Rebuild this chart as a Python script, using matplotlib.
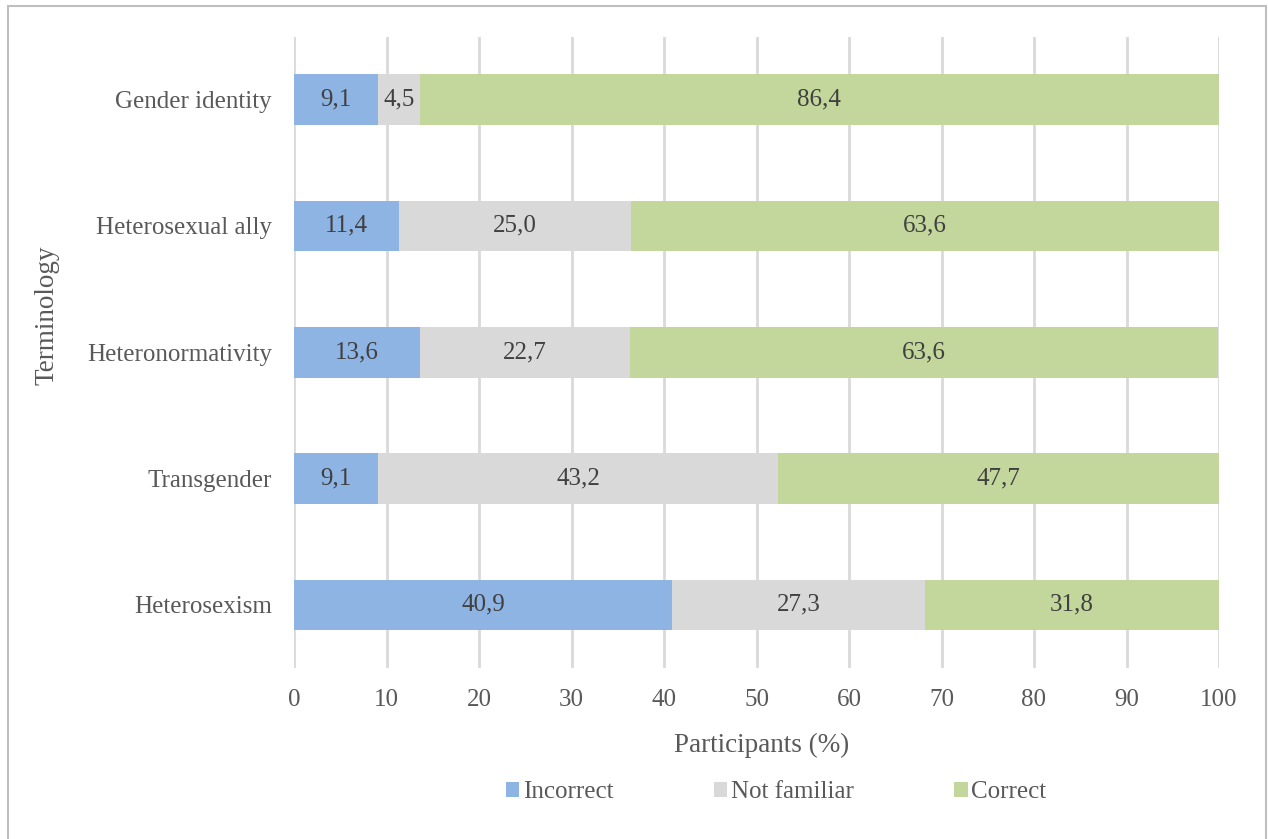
import matplotlib
matplotlib.use("Agg")
import matplotlib.pyplot as plt
from matplotlib.patches import Rectangle

terms = ["Heterosexism", "Transgender", "Heteronormativity", "Heterosexual ally", "Gender identity"]
incorrect = [40.9, 9.1, 13.6, 11.4, 9.1]
not_familiar = [27.3, 43.2, 22.7, 25.0, 4.5]
correct = [31.8, 47.7, 63.6, 63.6, 86.4]
series_names = ["Incorrect", "Not familiar", "Correct"]
colors = ["#8EB4E3", "#D9D9D9", "#C3D69B"]
xticks = list(range(0, 101, 10))

plt.rcParams["font.family"] = ["Liberation Serif", "DejaVu Serif"]
text_color = "#595959"

fig = plt.figure(figsize=(12.68, 8.39), dpi=100)
W, H = 1268, 839
ax = fig.add_axes([294 / W, 1 - 668 / H, (1219 - 294) / W, (668 - 36.5) / H])

# outer chart frame
fig.patches.append(Rectangle((8 / W, -0.01), (1266 - 8) / W, 1 - 6 / H + 0.01,
                             transform=fig.transFigure, fill=False,
                             edgecolor="#BFBFBF", linewidth=1.5))

y = list(range(len(terms)))
left = [0.0] * len(terms)
for name, vals, col in zip(series_names, [incorrect, not_familiar, correct], colors):
    bars = ax.barh(y, vals, left=left, height=0.4, color=col, label=name, zorder=3)
    for b, v in zip(bars, vals):
        ax.text(b.get_x() + b.get_width() / 2, b.get_y() + b.get_height() / 2,
                f"{v:.1f}".replace(".", ","), ha="center", va="center",
                fontsize=18, color="#404040", zorder=4)
    left = [l + v for l, v in zip(left, vals)]

ax.set_xlim(0, 100)
ax.set_ylim(-0.5, len(terms) - 0.5)
ax.set_xticks(xticks)
ax.set_xticklabels([str(t) for t in xticks])
ax.set_yticks(y)
ax.set_yticklabels(terms)
ax.tick_params(axis="both", length=0, labelsize=18, colors=text_color)
ax.tick_params(axis="x", pad=15)
ax.tick_params(axis="y", pad=16)
ax.grid(axis="x", color="#D9D9D9", linewidth=2, zorder=0)
for s in ax.spines.values():
    s.set_visible(False)

fig.text(762 / W, 1 - 745 / H, "Participants (%)", ha="center", va="center",
         fontsize=19.5, color=text_color)
fig.text(47 / W, 1 - 315 / H, "Terminology", rotation=90, ha="center", va="center",
         fontsize=19.5, color=text_color)

handles, labels = ax.get_legend_handles_labels()
fig.legend(handles, labels, loc="center", bbox_to_anchor=(776 / W, 1 - 792 / H),
           ncol=3, frameon=False, fontsize=18, labelcolor=text_color,
           handlelength=0.55, handleheight=0.55, handletextpad=0.15, columnspacing=4.0)

fig.savefig("out.png", dpi=100, facecolor="white")
